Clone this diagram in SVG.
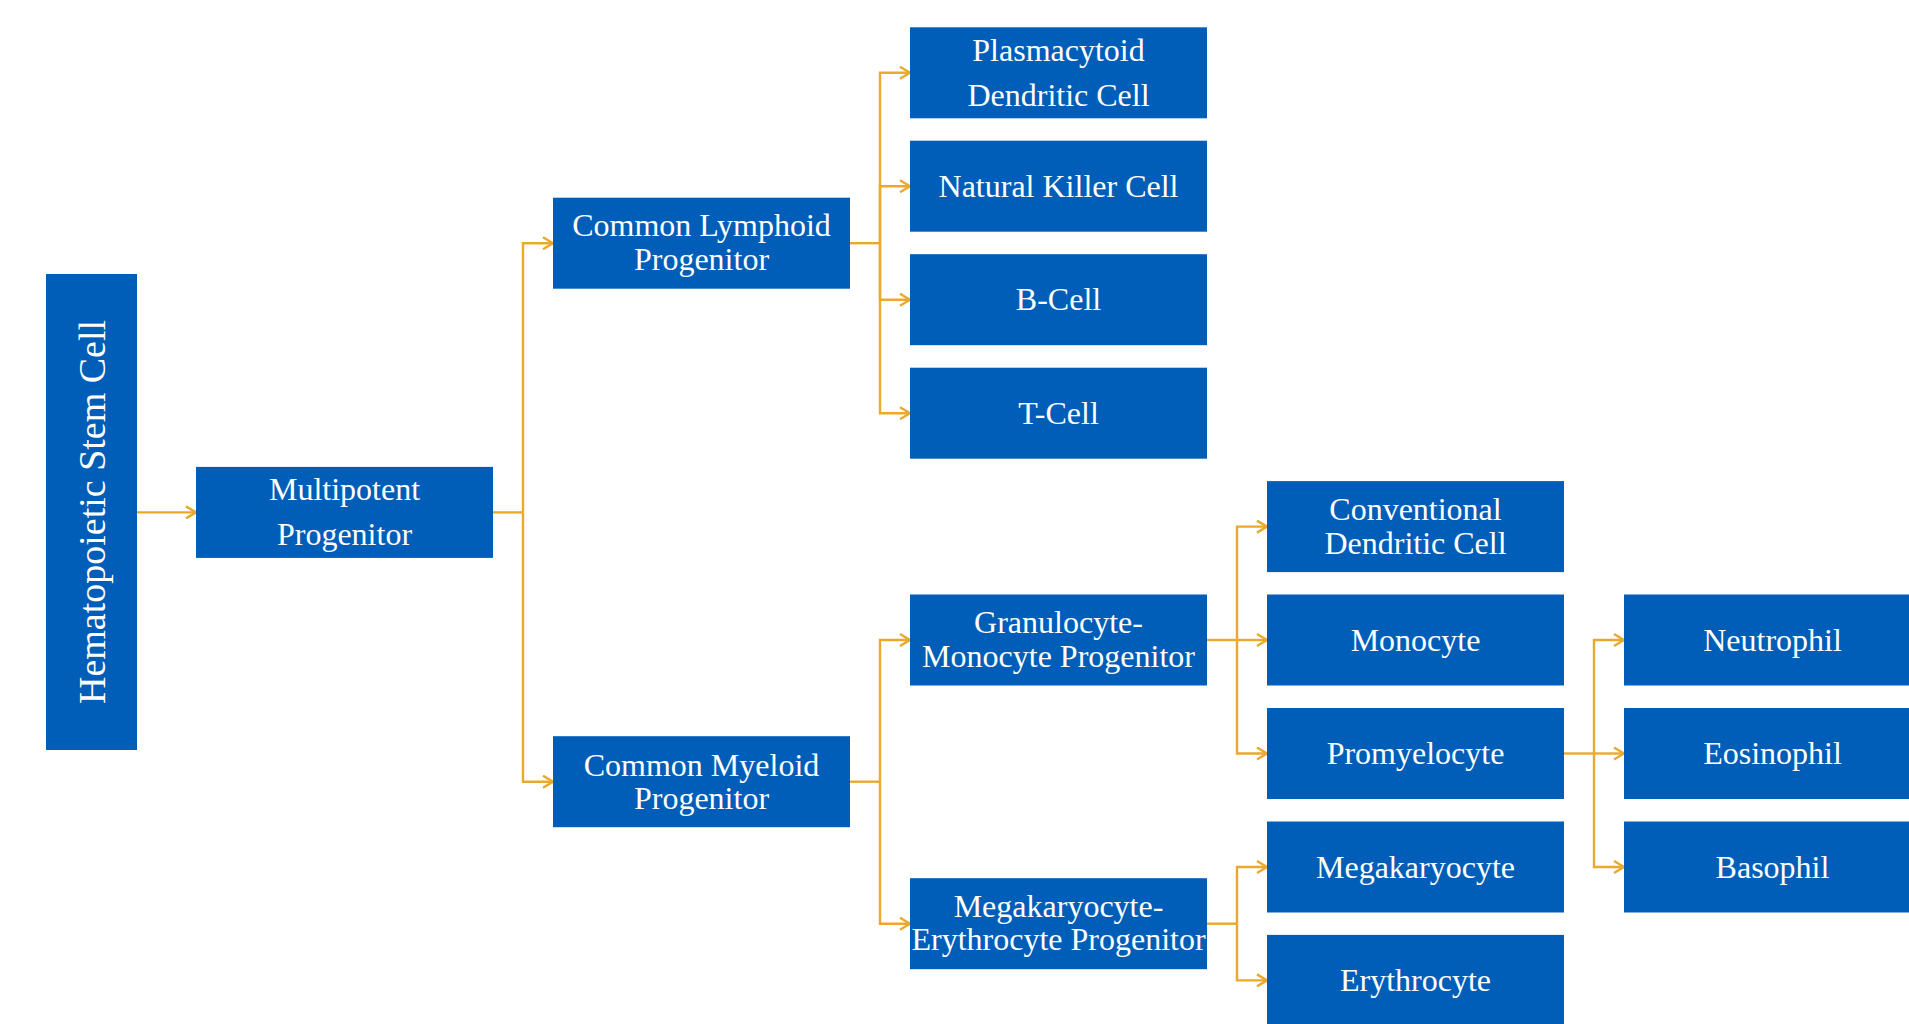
<svg xmlns="http://www.w3.org/2000/svg" width="1909" height="1024" viewBox="0 0 1909 1024">
<style>
.box{fill:#005EB8}
.t{fill:#ffffff;font-family:"Liberation Serif","Times New Roman",serif;font-size:32px;text-anchor:middle}
.c{fill:none;stroke:#EBA92B;stroke-width:2.4}
.ca{fill:none;stroke:#EBA92B;stroke-width:2.4;marker-end:url(#ah)}
</style>
<defs>
<marker id="ah" markerUnits="userSpaceOnUse" viewBox="0 0 12 14" refX="11" refY="7" markerWidth="12" markerHeight="14" orient="auto">
<path d="M1,1 L11,7 L1,13" fill="none" stroke="#EBA92B" stroke-width="2.4"/>
</marker>
</defs>
<rect width="1909" height="1024" fill="#ffffff"/>
<g id="connectors">
<path class="ca" d="M137,512.4 H196"/>
<path class="c" d="M493,512.4 H523"/>
<path class="ca" d="M523,512.4 V243.2 H553"/>
<path class="ca" d="M523,512.4 V781.7 H553"/>
<path class="c" d="M850,243.2 H880"/>
<path class="ca" d="M880,243.2 V72.8 H910"/>
<path class="ca" d="M880,243.2 V186.2 H910"/>
<path class="ca" d="M880,243.2 V299.7 H910"/>
<path class="ca" d="M880,243.2 V413.2 H910"/>
<path class="c" d="M850,781.7 H880"/>
<path class="ca" d="M880,781.7 V640 H910"/>
<path class="ca" d="M880,781.7 V923.7 H910"/>
<path class="c" d="M1207,640 H1237"/>
<path class="ca" d="M1237,640 V526.6 H1267"/>
<path class="ca" d="M1237,640 H1267"/>
<path class="ca" d="M1237,640 V753.5 H1267"/>
<path class="c" d="M1207,923.7 H1237"/>
<path class="ca" d="M1237,923.7 V867 H1267"/>
<path class="ca" d="M1237,923.7 V980.4 H1267"/>
<path class="c" d="M1564,753.5 H1594"/>
<path class="ca" d="M1594,753.5 V640 H1624"/>
<path class="ca" d="M1594,753.5 H1624"/>
<path class="ca" d="M1594,753.5 V867 H1624"/>
</g>
<g id="hsc"><rect class="box" x="46" y="274" width="91" height="476"/>
<text class="t" style="font-size:38px" transform="translate(105,512) rotate(-90)" x="0" y="0">Hematopoietic Stem Cell</text></g>
<g id="mpp"><rect class="box" x="196" y="466.9" width="297" height="91"/>
<text class="t" x="344.5" y="500.4">Multipotent</text><text class="t" x="344.5" y="545.4">Progenitor</text></g>
<g id="clp"><rect class="box" x="553" y="197.7" width="297" height="91"/>
<text class="t" x="701.5" y="236.2">Common Lymphoid</text><text class="t" x="701.5" y="270.2">Progenitor</text></g>
<g id="cmp"><rect class="box" x="553" y="736.2" width="297" height="91"/>
<text class="t" x="701.5" y="775.7">Common Myeloid</text><text class="t" x="701.5" y="809.2">Progenitor</text></g>
<g id="pdc"><rect class="box" x="910" y="27.3" width="297" height="91"/>
<text class="t" x="1058.5" y="60.8">Plasmacytoid</text><text class="t" x="1058.5" y="105.8">Dendritic Cell</text></g>
<g id="nk"><rect class="box" x="910" y="140.7" width="297" height="91"/>
<text class="t" x="1058.5" y="196.7">Natural Killer Cell</text></g>
<g id="bcell"><rect class="box" x="910" y="254.2" width="297" height="91"/>
<text class="t" x="1058.5" y="310.2">B-Cell</text></g>
<g id="tcell"><rect class="box" x="910" y="367.7" width="297" height="91"/>
<text class="t" x="1058.5" y="423.7">T-Cell</text></g>
<g id="gmp"><rect class="box" x="910" y="594.5" width="297" height="91"/>
<text class="t" x="1058.5" y="633.2">Granulocyte-</text><text class="t" x="1058.5" y="666.8">Monocyte Progenitor</text></g>
<g id="mep"><rect class="box" x="910" y="878.2" width="297" height="91"/>
<text class="t" x="1058.5" y="917">Megakaryocyte-</text><text class="t" x="1058.5" y="949.6">Erythrocyte Progenitor</text></g>
<g id="cdc"><rect class="box" x="1267" y="481.1" width="297" height="91"/>
<text class="t" x="1415.5" y="520.4">Conventional</text><text class="t" x="1415.5" y="554">Dendritic Cell</text></g>
<g id="monocyte"><rect class="box" x="1267" y="594.5" width="297" height="91"/>
<text class="t" x="1415.5" y="650.5">Monocyte</text></g>
<g id="promyelocyte"><rect class="box" x="1267" y="708" width="297" height="91"/>
<text class="t" x="1415.5" y="764">Promyelocyte</text></g>
<g id="megakaryocyte"><rect class="box" x="1267" y="821.5" width="297" height="91"/>
<text class="t" x="1415.5" y="877.5">Megakaryocyte</text></g>
<g id="erythrocyte"><rect class="box" x="1267" y="934.9" width="297" height="91"/>
<text class="t" x="1415.5" y="990.9">Erythrocyte</text></g>
<g id="neutrophil"><rect class="box" x="1624" y="594.5" width="297" height="91"/>
<text class="t" x="1772.5" y="650.5">Neutrophil</text></g>
<g id="eosinophil"><rect class="box" x="1624" y="708" width="297" height="91"/>
<text class="t" x="1772.5" y="764">Eosinophil</text></g>
<g id="basophil"><rect class="box" x="1624" y="821.5" width="297" height="91"/>
<text class="t" x="1772.5" y="877.5">Basophil</text></g>
</svg>
